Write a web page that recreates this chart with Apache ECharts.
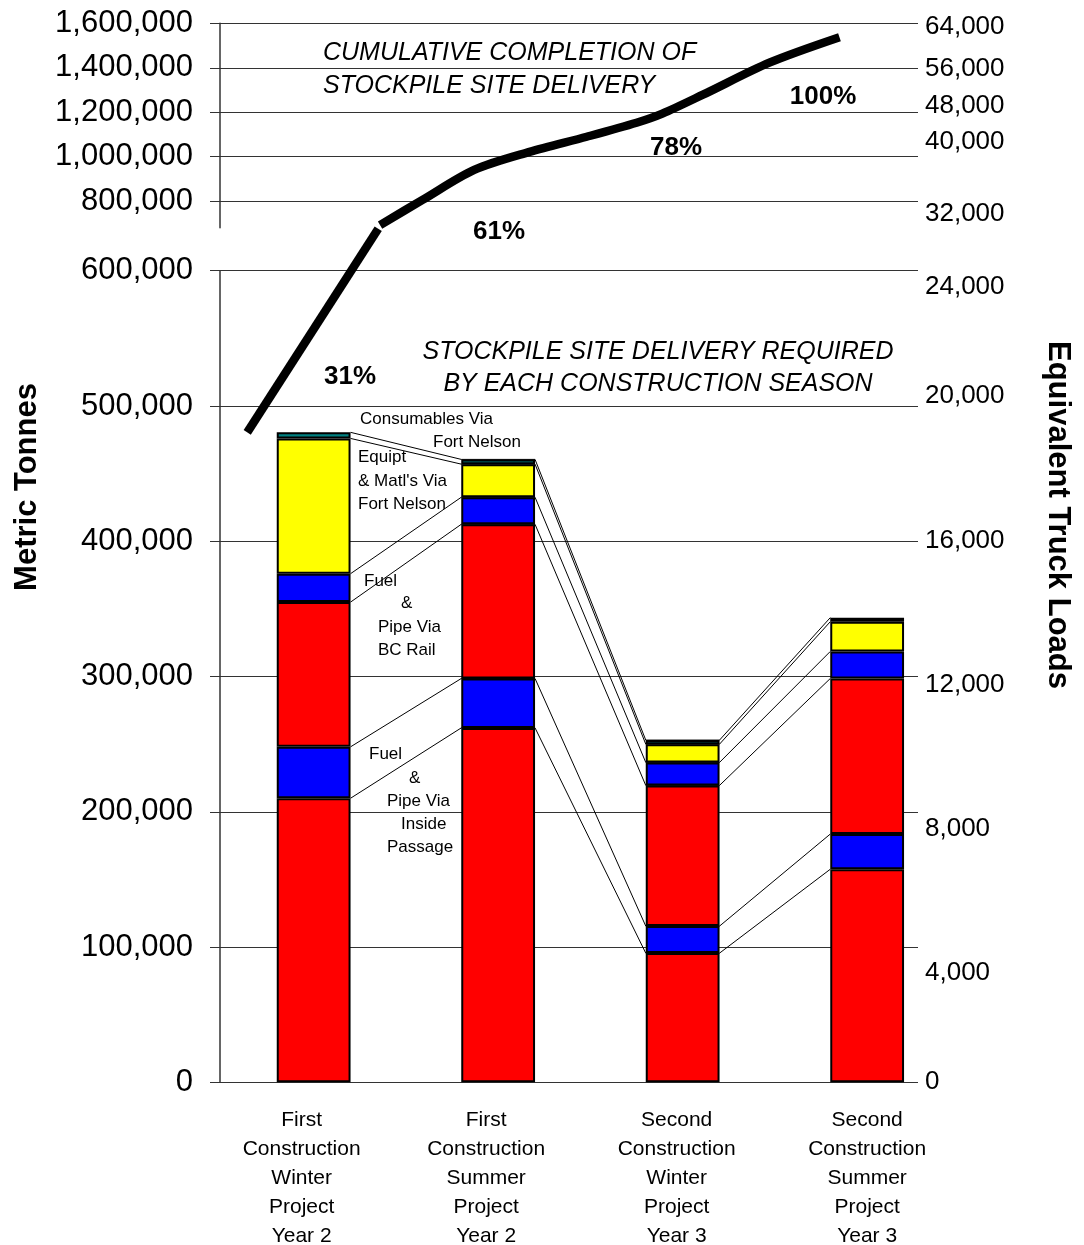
<!DOCTYPE html>
<html>
<head>
<meta charset="utf-8">
<title>Stockpile Site Delivery</title>
<script src="https://cdn.jsdelivr.net/npm/echarts@6/dist/echarts.min.js"></script>
<style>
  html, body { margin: 0; padding: 0; background: #ffffff; }
  #chart { width: 1084px; height: 1245px; }
</style>
</head>
<body>
<div id="chart"></div>
<script>
// ---- Data -------------------------------------------------------------
const seasons = [
  'First\nConstruction\nWinter\nProject\nYear 2',
  'First\nConstruction\nSummer\nProject\nYear 2',
  'Second\nConstruction\nWinter\nProject\nYear 3',
  'Second\nConstruction\nSummer\nProject\nYear 3'
];

// Tonnes delivered per season, stacked bottom to top
const pipeInsidePassage     = [210000, 262000, 95500, 157500];
const fuelInsidePassage     = [38000, 36500, 20000, 26000];
const pipeBCRail            = [107000, 114000, 104000, 115000];
const fuelBCRail            = [21000, 20000, 17000, 20000];
const equipFortNelson       = [100000, 24500, 13500, 22000];
const consumablesFortNelson = [4500, 3500, 3000, 3000];

// Cumulative delivery curve: [season position, tonnes]
// lower panel part (0 - 600,000 scale) and upper panel part (800,000 - 1,600,000 scale)
const cumulativeLower = [[-0.36, 480500], [0.35, 631000]];
const cumulativeUpper = [
  [0.36, 693000], [0.59, 806000], [0.87, 941000], [1.17, 1022000],
  [1.48, 1090000], [1.75, 1153000], [1.89, 1194000], [2.11, 1279000],
  [2.47, 1423000], [2.85, 1537500]
];

// Axis ticks
const upperTonnesTicks = [800000, 1000000, 1200000, 1400000, 1600000];
const lowerTonnesMax = 600000;
const lowerTonnesStep = 100000;
const tonnesPerTruck = 25;

// ---- Helpers ----------------------------------------------------------
const FONT = "'Liberation Sans', Arial, Helvetica, sans-serif";
const fmt = v => Math.round(v).toLocaleString('en-US');

const stackSeries = [
  { name: 'Pipe Via Inside Passage', data: pipeInsidePassage, color: '#ff0000' },
  { name: 'Fuel Via Inside Passage', data: fuelInsidePassage, color: '#0000ff' },
  { name: 'Pipe Via BC Rail', data: pipeBCRail, color: '#ff0000' },
  { name: 'Fuel Via BC Rail', data: fuelBCRail, color: '#0000ff' },
  { name: "Equipt & Matl's Via Fort Nelson", data: equipFortNelson, color: '#ffff00' },
  { name: 'Consumables Via Fort Nelson', data: consumablesFortNelson, color: '#008080' }
];

// running tops of each stacked layer, per season
const layerTops = [];
{
  const run = seasons.map(() => 0);
  stackSeries.forEach(s => {
    s.data.forEach((v, i) => { run[i] += v; });
    layerTops.push(run.slice());
  });
}
const seasonTotals = layerTops[layerTops.length - 1];
const grandTotal = seasonTotals.reduce((a, b) => a + b, 0);
const cumulativeShare = [];
seasonTotals.reduce((acc, v) => { acc += v; cumulativeShare.push(Math.round(acc / grandTotal * 100) + '%'); return acc; }, 0);

// ---- Layout -----------------------------------------------------------
const AX_LEFT = 220, AX_RIGHT = 166;          // extent of gridlines
const PLOT_LEFT = 221.4, PLOT_RIGHT = 124.6;  // extent of season bands
const UP_TOP = 23.3, UP_BOTTOM = 1245 - 227.7;
const LO_TOP = 270.7, LO_BOTTOM = 1245 - 1082.3;
const upperMin = 681000, upperMax = 1600000;
const barHalf = 0.2; // half of a bar width in season units (bar = 40% of a band)

// vertical nudges for the truck-load labels
const truckShift = { 0: 0, 4000: 26, 8000: 17, 12000: 8, 16000: 0, 20000: -10, 24000: 16,
                     32000: 13, 40000: -15, 48000: -6, 56000: 1, 64000: 4 };
const truckRich = {};
Object.keys(truckShift).forEach(k => {
  const d = truckShift[k];
  truckRich['t' + k] = {
    fontSize: 26, fontFamily: FONT, color: '#000',
    padding: d >= 0 ? [2 * d, 0, 0, 0] : [0, 0, -2 * d, 0]
  };
});
const truckLabel = v => '{t' + v + '|' + fmt(v) + '}';

// horizontal nudges for season labels
const seasonShift = [12, 12, 6, 0];
const seasonRich = {};
seasonShift.forEach((d, i) => {
  seasonRich['c' + i] = { fontSize: 21, fontFamily: FONT, color: '#000', lineHeight: 29, padding: [0, 2 * d, 0, 0] };
});

const gridLine = { color: '#333', width: 1 };
const axisLineStyle = { color: '#333', width: 1.5 };
const tonnesLabel = { formatter: fmt, fontSize: 31, fontFamily: FONT, color: '#000', margin: 27 };

// ---- Series -----------------------------------------------------------
const series = [];

// connector lines between matching layer boundaries of neighbouring bars
layerTops.forEach((tops, k) => {
  const pts = [];
  for (let i = 0; i < tops.length - 1; i++) {
    pts.push([i + barHalf, tops[i]]);
    pts.push([i + 1 - barHalf, tops[i + 1]]);
  }
  series.push({
    type: 'line', name: 'link' + k, xAxisIndex: 4, yAxisIndex: 5,
    data: pts, symbol: 'none', silent: true, z: 1,
    lineStyle: { color: '#000', width: 1 }
  });
});

// stacked season bars
stackSeries.forEach(s => {
  series.push({
    type: 'bar', name: s.name, stack: 'season', xAxisIndex: 3, yAxisIndex: 5,
    data: s.data, barWidth: '40%', z: 2,
    itemStyle: { color: s.color, borderColor: '#000', borderWidth: 2 }
  });
});

// cumulative completion curve
series.push({
  type: 'line', name: 'cumulative-lower', xAxisIndex: 4, yAxisIndex: 5,
  data: cumulativeLower, symbol: 'none', clip: false, z: 5,
  lineStyle: { color: '#000', width: 8.5, cap: 'butt' }
});
series.push({
  type: 'line', name: 'cumulative-upper', xAxisIndex: 2, yAxisIndex: 4,
  data: cumulativeUpper, symbol: 'none', smooth: 0.3, clip: false, z: 5,
  lineStyle: { color: '#000', width: 8.5, cap: 'butt' }
});

// ---- Text -------------------------------------------------------------
function txt(text, x, y, opts) {
  opts = opts || {};
  return {
    type: 'text', x: x, y: y, rotation: opts.rotation || 0, z: 20, silent: true,
    style: {
      text: text,
      fill: '#000',
      fontFamily: FONT,
      fontSize: opts.size || 17,
      fontWeight: opts.weight || 'normal',
      fontStyle: opts.style || 'normal',
      align: opts.align || 'left',
      verticalAlign: 'middle',
      lineHeight: opts.lineHeight
    }
  };
}

const pctPositions = [[350, 377], [499, 232], [676, 148], [823, 97]];

const graphics = [
  txt('CUMULATIVE COMPLETION OF\nSTOCKPILE SITE DELIVERY', 323, 70, { size: 25, style: 'italic', lineHeight: 33 }),
  txt('STOCKPILE SITE DELIVERY REQUIRED\nBY EACH CONSTRUCTION SEASON', 658, 368, { size: 25, style: 'italic', lineHeight: 32, align: 'center' }),
  txt('Metric Tonnes', 27, 487, { size: 31, weight: 'bold', align: 'center', rotation: Math.PI / 2 }),
  txt('Equivalent Truck Loads', 1058, 515, { size: 31, weight: 'bold', align: 'center', rotation: -Math.PI / 2 }),

  txt('Consumables Via', 360, 419),
  txt('Fort Nelson', 433, 442),
  txt('Equipt', 358, 457),
  txt("& Matl's Via", 358, 481),
  txt('Fort Nelson', 358, 504),
  txt('Fuel', 364, 581),
  txt('&', 401, 603),
  txt('Pipe Via', 378, 627),
  txt('BC Rail', 378, 650),
  txt('Fuel', 369, 754),
  txt('&', 409, 778),
  txt('Pipe Via', 387, 801),
  txt('Inside', 401, 824),
  txt('Passage', 387, 847)
];
cumulativeShare.forEach((p, i) => {
  graphics.push(txt(p, pctPositions[i][0], pctPositions[i][1], { size: 26, weight: 'bold', align: 'center' }));
});

// ---- Chart ------------------------------------------------------------
const chart = echarts.init(document.getElementById('chart'));
chart.setOption({
  animation: false,
  backgroundColor: '#ffffff',
  grid: [
    { left: AX_LEFT, right: AX_RIGHT, top: UP_TOP, bottom: UP_BOTTOM, containLabel: false, outerBoundsMode: 'none' },
    { left: AX_LEFT, right: AX_RIGHT, top: LO_TOP, bottom: LO_BOTTOM, containLabel: false, outerBoundsMode: 'none' },
    { left: PLOT_LEFT, right: PLOT_RIGHT, top: UP_TOP, bottom: UP_BOTTOM, containLabel: false, outerBoundsMode: 'none' },
    { left: PLOT_LEFT, right: PLOT_RIGHT, top: LO_TOP, bottom: LO_BOTTOM, containLabel: false, outerBoundsMode: 'none' }
  ],
  xAxis: [
    { gridIndex: 0, type: 'value', show: false, min: 0, max: 1 },
    { gridIndex: 1, type: 'value', show: false, min: 0, max: 1 },
    { gridIndex: 2, type: 'value', show: false, min: -0.5, max: 3.5 },
    {
      gridIndex: 3, type: 'category', data: seasons, position: 'bottom',
      axisLine: { show: false }, axisTick: { show: false }, splitLine: { show: false },
      axisLabel: {
        interval: 0, margin: 23,
        formatter: (value, index) => value.split('\n').map(l => '{c' + index + '|' + l + '}').join('\n'),
        rich: seasonRich
      }
    },
    { gridIndex: 3, type: 'value', show: false, min: -0.5, max: 3.5, position: 'top' }
  ],
  yAxis: [
    {
      gridIndex: 0, type: 'value', position: 'left', min: upperMin, max: upperMax,
      axisLine: { show: true, lineStyle: axisLineStyle },
      axisTick: { show: true, length: 10, customValues: upperTonnesTicks, lineStyle: gridLine },
      axisLabel: Object.assign({ customValues: upperTonnesTicks }, tonnesLabel),
      splitLine: { show: true, lineStyle: gridLine }
    },
    {
      gridIndex: 0, type: 'value', position: 'right',
      min: upperMin / tonnesPerTruck, max: upperMax / tonnesPerTruck,
      axisLine: { show: false }, axisTick: { show: false }, splitLine: { show: false },
      axisLabel: {
        customValues: upperTonnesTicks.map(v => v / tonnesPerTruck),
        formatter: truckLabel, rich: truckRich, margin: 7, fontSize: 26, fontFamily: FONT, color: '#000'
      }
    },
    {
      gridIndex: 1, type: 'value', position: 'left', min: 0, max: lowerTonnesMax, interval: lowerTonnesStep,
      axisLine: { show: true, lineStyle: axisLineStyle },
      axisTick: { show: true, length: 10, lineStyle: gridLine },
      axisLabel: tonnesLabel,
      splitLine: { show: true, lineStyle: gridLine }
    },
    {
      gridIndex: 1, type: 'value', position: 'right',
      min: 0, max: lowerTonnesMax / tonnesPerTruck, interval: lowerTonnesStep / tonnesPerTruck,
      axisLine: { show: false }, axisTick: { show: false }, splitLine: { show: false },
      axisLabel: { formatter: truckLabel, rich: truckRich, margin: 7, fontSize: 26, fontFamily: FONT, color: '#000' }
    },
    { gridIndex: 2, type: 'value', show: false, min: upperMin, max: upperMax, splitLine: { show: false } },
    { gridIndex: 3, type: 'value', show: false, min: 0, max: lowerTonnesMax, splitLine: { show: false } }
  ],
  series: series,
  graphic: graphics
});
</script>
</body>
</html>
